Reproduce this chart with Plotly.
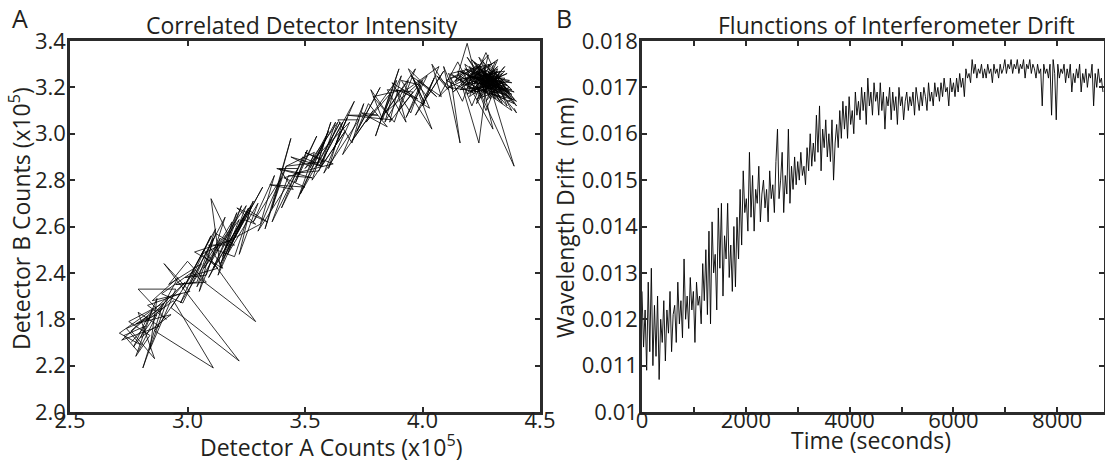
import plotly.graph_objects as go

# ---------------- Panel A data: Detector A counts vs Detector B counts (x10^5) -------------
det_a = [
    2.76, 2.82, 2.73, 2.79, 2.87, 2.74, 2.80, 2.71, 2.85, 2.78,
    2.84, 2.75, 2.90, 2.77, 2.83, 2.72, 2.88, 2.79, 2.86, 2.76,
    2.92, 2.81, 2.89, 2.78, 2.93, 2.80, 2.87, 2.84, 2.95, 2.79,
    2.91, 2.83, 2.97, 2.86, 3.11, 2.94, 2.82, 2.99, 2.88, 2.96,
    2.85, 3.01, 2.90, 3.22, 2.93, 3.03, 2.89, 2.98, 3.06, 2.92,
    3.00, 3.08, 2.95, 3.04, 3.12, 2.98, 3.07, 3.29, 3.02, 3.10,
    2.97, 3.14, 3.05, 3.11, 3.01, 3.16, 3.08, 2.99, 3.13, 3.06,
    3.18, 3.03, 3.15, 3.09, 3.20, 3.12, 3.04, 3.17, 3.10, 3.14,
    3.22, 3.07, 3.19, 3.13, 3.24, 3.11, 3.21, 3.16, 3.26, 3.09,
    3.18, 3.23, 3.15, 3.28, 3.20, 3.12, 3.25, 3.17, 3.30, 3.22,
    3.27, 3.19, 3.32, 3.14, 3.24, 3.29, 3.21, 3.34, 3.26, 3.18,
    3.31, 3.37, 3.28, 3.40, 3.33, 3.44, 3.36, 3.42, 3.30, 3.47,
    3.39, 3.45, 3.35, 3.50, 3.41, 3.48, 3.38, 3.53, 3.43, 3.36,
    3.51, 3.46, 3.55, 3.40, 3.49, 3.57, 3.44, 3.52, 3.60, 3.47,
    3.54, 3.42, 3.58, 3.50, 3.62, 3.46, 3.56, 3.63, 3.52, 3.59,
    3.48, 3.65, 3.55, 3.61, 3.53, 3.67, 3.57, 3.64, 3.50, 3.69,
    3.60, 3.66, 3.56, 3.71, 3.62, 3.68, 3.58, 3.73, 3.64, 3.70,
    3.75, 3.66, 3.79, 3.70, 3.82, 3.72, 3.77, 3.85, 3.74, 3.81,
    3.68, 3.87, 3.78, 3.83, 3.90, 3.80, 3.86, 3.76, 3.89, 3.84,
    3.92, 3.79, 3.88, 3.94, 3.82, 3.91, 3.86, 3.96, 3.85, 3.93,
    3.89, 3.98, 3.87, 3.95, 4.00, 3.90, 3.97, 3.84, 4.02, 3.93,
    3.99, 3.91, 4.04, 3.96, 4.01, 3.94, 4.06, 3.98, 4.03, 3.92,
    4.07, 4.00, 4.05, 3.97, 4.09, 4.02, 3.95, 4.08, 4.04, 4.11,
    4.06, 4.13, 4.09, 4.16, 4.12, 4.18, 4.07, 4.15, 4.20, 4.11,
    4.17, 4.22, 4.14, 4.19, 4.24, 4.16, 4.21, 4.26, 4.18, 4.23,
    4.10, 4.25, 4.20, 4.28, 4.15, 4.24, 4.27, 4.19, 4.30, 4.22,
    4.13, 4.26, 4.29, 4.21, 4.32, 4.17, 4.28, 4.23, 4.31, 4.25,
    4.34, 4.20, 4.27, 4.33, 4.18, 4.30, 4.24, 4.35, 4.22, 4.29,
    4.12, 4.26, 4.32, 4.19, 4.36, 4.28, 4.21, 4.33, 4.25, 4.31,
    4.16, 4.27, 4.34, 4.23, 4.37, 4.29, 4.20, 4.32, 4.26, 4.35,
    4.14, 4.24, 4.30, 4.38, 4.22, 4.33, 4.27, 4.19, 4.31, 4.36,
    4.25, 4.18, 4.29, 4.34, 4.23, 4.39, 4.28, 4.21, 4.32, 4.26,
    4.37, 4.24, 4.30, 4.17, 4.35, 4.27, 4.33, 4.22, 4.38, 4.29,
    4.11, 4.25, 4.31, 4.20, 4.36, 4.28, 4.23, 4.34, 4.26, 4.39,
    4.19, 4.32, 4.27, 4.35, 4.24, 4.30, 4.21, 4.37, 4.29, 4.33,
    4.16, 4.26, 4.38, 4.23, 4.31, 4.28, 4.34, 4.20, 4.36, 4.25,
    4.30, 4.22, 4.33, 4.27, 4.39, 4.24, 4.32, 4.18, 4.35, 4.29,
    4.26, 4.37, 4.21, 4.31, 4.28, 4.34, 4.23, 4.38, 4.30, 4.25,
    4.33, 4.19, 4.36, 4.27, 4.32, 4.40, 4.29, 4.35, 4.24, 4.38,
    4.31, 4.37, 4.26, 4.34, 4.40, 4.33, 4.39, 4.36, 4.40, 4.39,
]
det_b = [
    2.10, 2.17, 2.13, 2.06, 2.22, 2.16, 2.09, 2.14, 2.24, 2.04,
    2.13, 2.19, 2.27, 2.08, 2.21, 2.11, 2.17, 2.23, 2.03, 2.15,
    2.30, 1.99, 2.25, 2.18, 2.22, 2.12, 2.29, 2.07, 2.33, 2.33,
    2.20, 2.26, 2.31, 2.15, 1.99, 2.28, 2.19, 2.36, 2.23, 2.38,
    2.28, 2.32, 2.44, 2.02, 2.25, 2.41, 2.31, 2.27, 2.44, 2.35,
    2.45, 2.36, 2.35, 2.36, 2.59, 2.33, 2.50, 2.19, 2.40, 2.56,
    2.27, 2.55, 2.32, 2.55, 2.35, 2.64, 2.39, 2.38, 2.42, 2.48,
    2.54, 2.49, 2.42, 2.52, 2.52, 2.57, 2.34, 2.57, 2.72, 2.42,
    2.63, 2.42, 2.62, 2.39, 2.64, 2.42, 2.66, 2.50, 2.68, 2.38,
    2.57, 2.69, 2.47, 2.71, 2.47, 2.50, 2.69, 2.48, 2.70, 2.48,
    2.69, 2.53, 2.77, 2.44, 2.63, 2.61, 2.68, 2.62, 2.67, 2.54,
    2.61, 2.82, 2.62, 2.81, 2.59, 2.98, 2.68, 2.86, 2.58, 2.85,
    2.85, 2.76, 2.78, 2.77, 2.81, 2.83, 2.85, 2.81, 2.82, 2.62,
    2.93, 2.79, 2.99, 2.68, 2.90, 2.86, 2.90, 2.86, 3.01, 2.72,
    2.92, 2.86, 2.88, 2.92, 2.87, 2.83, 2.84, 3.05, 2.85, 2.98,
    2.74, 3.05, 2.86, 3.05, 2.80, 3.01, 2.86, 3.05, 2.85, 3.05,
    2.85, 3.05, 2.86, 3.14, 2.93, 3.07, 2.83, 3.06, 3.06, 2.96,
    3.13, 2.91, 3.10, 2.97, 3.20, 3.01, 3.13, 3.03, 3.09, 3.08,
    3.08, 3.06, 3.19, 3.06, 3.28, 2.99, 3.17, 3.05, 3.23, 3.05,
    3.19, 3.16, 3.05, 3.23, 3.06, 3.25, 3.05, 3.18, 3.19, 3.05,
    3.19, 3.15, 3.22, 3.09, 3.23, 3.10, 3.28, 3.09, 3.25, 3.07,
    3.21, 3.23, 3.02, 3.24, 3.13, 3.28, 3.16, 3.23, 3.11, 3.18,
    3.29, 3.12, 3.24, 3.08, 3.27, 3.16, 3.25, 3.16, 3.30, 3.19,
    3.25, 3.19, 3.29, 2.96, 3.24, 3.27, 3.16, 3.31, 3.21, 3.26,
    3.14, 3.28, 3.22, 3.39, 3.19, 3.25, 3.12, 3.24, 3.30, 3.17,
    3.23, 3.29, 3.16, 3.22, 3.27, 2.96, 3.20, 3.33, 3.18, 3.25,
    3.18, 3.31, 3.15, 3.27, 3.23, 3.21, 3.34, 3.13, 3.26, 3.20,
    3.19, 3.29, 3.10, 3.25, 3.24, 3.02, 3.28, 3.21, 3.18, 3.30,
    3.26, 3.16, 3.28, 3.20, 3.17, 3.24, 3.32, 3.14, 3.27, 3.21,
    3.19, 3.29, 3.23, 3.15, 3.20, 3.26, 3.23, 3.32, 3.18, 3.27,
    3.23, 3.30, 3.17, 3.15, 3.26, 3.22, 3.35, 3.17, 3.24, 3.12,
    3.25, 3.28, 3.19, 3.26, 3.21, 2.86, 3.23, 3.19, 3.29, 3.22,
    3.18, 3.33, 3.20, 3.24, 3.24, 3.14, 3.27, 3.22, 3.19, 3.28,
    3.20, 3.18, 3.31, 3.25, 3.21, 3.17, 3.29, 3.20, 3.26, 3.13,
    3.22, 3.24, 3.19, 3.29, 3.16, 3.27, 3.23, 3.16, 3.22, 3.18,
    3.27, 3.23, 3.22, 3.27, 3.15, 3.30, 3.23, 3.18, 3.26, 3.21,
    3.25, 3.31, 3.16, 3.24, 3.18, 3.22, 3.27, 3.21, 3.15, 3.25,
    3.19, 3.23, 3.26, 3.20, 3.27, 3.13, 3.24, 3.17, 3.22, 3.28,
    3.21, 3.25, 3.19, 3.26, 3.18, 3.14, 3.24, 3.22, 3.20, 3.10,
    3.23, 3.17, 3.25, 3.19, 3.12, 3.23, 3.15, 3.14, 3.09, 3.11,
]

# ---------------- Panel B data: wavelength drift (nm) vs time (s) -------------------------
time_step_s = 30
drift_nm = [
    0.0126, 0.0114, 0.0122, 0.0109, 0.0128, 0.0113, 0.0131, 0.0110, 0.0123, 0.0112,
    0.0125, 0.0107, 0.0120, 0.0115, 0.0124, 0.0111, 0.0122, 0.0117, 0.0126, 0.0113,
    0.0121, 0.0123, 0.0115, 0.0128, 0.0119, 0.0124, 0.0116, 0.0133, 0.0120, 0.0125,
    0.0118, 0.0129, 0.0122, 0.0126, 0.0115, 0.0128, 0.0123, 0.0125, 0.0119, 0.0132,
    0.0124, 0.0135, 0.0121, 0.0139, 0.0119, 0.0141, 0.0130, 0.0134, 0.0122, 0.0144,
    0.0131, 0.0145, 0.0125, 0.0138, 0.0133, 0.0145, 0.0129, 0.0136, 0.0126, 0.0140,
    0.0127, 0.0142, 0.0133, 0.0148, 0.0136, 0.0152, 0.0143, 0.0146, 0.0139, 0.0156,
    0.0142, 0.0151, 0.0139, 0.0148, 0.0145, 0.0153, 0.0141, 0.0147, 0.0150, 0.0144,
    0.0148, 0.0141, 0.0152, 0.0146, 0.0149, 0.0143, 0.0154, 0.0161, 0.0146, 0.0150,
    0.0156, 0.0143, 0.0151, 0.0147, 0.0161, 0.0145, 0.0153, 0.0148, 0.0155, 0.0149,
    0.0154, 0.0150, 0.0156, 0.0151, 0.0153, 0.0149, 0.0157, 0.0152, 0.0160, 0.0153,
    0.0158, 0.0154, 0.0164, 0.0156, 0.0166, 0.0152, 0.0161, 0.0157, 0.0163, 0.0155,
    0.0160, 0.0154, 0.0163, 0.0150, 0.0158, 0.0162, 0.0157, 0.0165, 0.0159, 0.0167,
    0.0161, 0.0166, 0.0159, 0.0168, 0.0162, 0.0165, 0.0160, 0.0169, 0.0164, 0.0167,
    0.0163, 0.0170, 0.0165, 0.0169, 0.0162, 0.0172, 0.0166, 0.0169, 0.0164, 0.0171,
    0.0167, 0.0169, 0.0164, 0.0171, 0.0165, 0.0169, 0.0161, 0.0168, 0.0166, 0.0170,
    0.0163, 0.0169, 0.0165, 0.0168, 0.0162, 0.0170, 0.0166, 0.0168, 0.0163, 0.0167,
    0.0169, 0.0165, 0.0168, 0.0166, 0.0169, 0.0164, 0.0170, 0.0167, 0.0165, 0.0169,
    0.0166, 0.0170, 0.0168, 0.0165, 0.0171, 0.0167, 0.0169, 0.0166, 0.0171, 0.0168,
    0.0170, 0.0167, 0.0171, 0.0168, 0.0172, 0.0169, 0.0170, 0.0166, 0.0172, 0.0169,
    0.0171, 0.0168, 0.0172, 0.0169, 0.0173, 0.0170, 0.0172, 0.0168, 0.0174, 0.0172,
    0.0173, 0.0171, 0.0176, 0.0173, 0.0175, 0.0172, 0.0174, 0.0173, 0.0175, 0.0172,
    0.0174, 0.0172, 0.0175, 0.0173, 0.0174, 0.0171, 0.0175, 0.0173, 0.0174, 0.0172,
    0.0175, 0.0173, 0.0174, 0.0176, 0.0173, 0.0175, 0.0174, 0.0176, 0.0173, 0.0175,
    0.0174, 0.0176, 0.0173, 0.0175, 0.0174, 0.0176, 0.0172, 0.0175, 0.0174, 0.0176,
    0.0173, 0.0175, 0.0174, 0.0172, 0.0175, 0.0173, 0.0174, 0.0166, 0.0175, 0.0173,
    0.0174, 0.0172, 0.0175, 0.0164, 0.0176, 0.0173, 0.0163, 0.0175, 0.0172, 0.0174,
    0.0173, 0.0175, 0.0171, 0.0174, 0.0172, 0.0175, 0.0169, 0.0173, 0.0171, 0.0174,
    0.0172, 0.0175, 0.0169, 0.0173, 0.0171, 0.0174, 0.0170, 0.0173, 0.0172, 0.0175,
    0.0166, 0.0173, 0.0170, 0.0174, 0.0171, 0.0172, 0.0169,
]
time_s = [i * time_step_s for i in range(len(drift_nm))]

# ---------------- Tick labels ---------------------------------------------------------------
a_xticks = [2.5, 3.0, 3.5, 4.0, 4.5]
a_xtext = ["2.5", "3.0", "3.5", "4.0", "4.5"]
a_yticks = [1.8, 2.0, 2.2, 2.4, 2.6, 2.8, 3.0, 3.2, 3.4]
a_ytext = ["2.0", "2.2", "1.8", "2.4", "2.6", "2.8", "3.0", "3.2", "3.4"]
b_xticks = [0, 1000, 2000, 3000, 4000, 5000, 6000, 7000, 8000]
b_xtext = ["0", "", "2000", "", "4000", "", "6000", "", "8000"]
b_yticks = [0.010, 0.011, 0.012, 0.013, 0.014, 0.015, 0.016, 0.017, 0.018]
b_ytext = ["0.01", "0.011", "0.012", "0.013", "0.014", "0.015", "0.016", "0.017", "0.018"]

W, H = 1105, 462
FONT = "Open Sans"
TXT = "#231f20"
AX = "#2b2b2b"

def px(x):
    return x / W

def py(y):
    return 1 - y / H

fig = go.Figure()
fig.add_trace(go.Scatter(x=det_a, y=det_b, mode="lines",
                         line=dict(color="black", width=0.8),
                         xaxis="x", yaxis="y", showlegend=False, hoverinfo="skip"))
fig.add_trace(go.Scatter(x=time_s, y=drift_nm, mode="lines",
                         line=dict(color="black", width=0.9),
                         xaxis="x2", yaxis="y2", showlegend=False, hoverinfo="skip"))

common = dict(showline=True, linecolor=AX, linewidth=2.5, mirror="ticks",
              ticks="inside", ticklen=5, tickwidth=2, tickcolor=AX,
              showgrid=False, zeroline=False, automargin=False,
              tickfont=dict(family=FONT, size=22, color=TXT))
xextra = dict(ticklabelstandoff=-13)
yextra = dict(ticklabelstandoff=-3)

fig.update_layout(
    width=W, height=H,
    margin=dict(l=0, r=0, t=0, b=0, autoexpand=False),
    paper_bgcolor="white", plot_bgcolor="white",
    xaxis=dict(domain=[px(70), px(540)], range=[2.5, 4.5], anchor="y",
               tickmode="array", tickvals=a_xticks, ticktext=a_xtext, **common, **xextra),
    yaxis=dict(domain=[py(412), py(41)], range=[1.8, 3.4], anchor="x",
               tickmode="array", tickvals=a_yticks, ticktext=a_ytext, **common, **yextra),
    xaxis2=dict(domain=[px(642), px(1104)], range=[0, 8900], anchor="y2",
                tickmode="array", tickvals=b_xticks, ticktext=b_xtext, **common, **xextra),
    yaxis2=dict(domain=[py(412), py(41)], range=[0.010, 0.018], anchor="x2",
                tickmode="array", tickvals=b_yticks, ticktext=b_ytext, **common, **yextra),
)

def ann(text, x, y, size=23, angle=0):
    fig.add_annotation(text=text, x=px(x), y=py(y), xref="paper", yref="paper",
                       xanchor="center", yanchor="middle", showarrow=False,
                       textangle=angle, font=dict(family=FONT, size=size, color=TXT))

ann("A", 20, 18, size=25)
ann("B", 564, 18, size=25)
ann("Correlated Detector Intensity", 302, 25)
ann("Flunctions of Interferometer Drift", 896, 25)
ann("Detector A Counts (x10<sup>5</sup>)", 331, 446)
ann("Detector B Counts (x10<sup>5</sup>)", 20, 219, angle=-90)
ann("Wavelength Drift\u00a0 (nm)", 565, 218, angle=-90)
ann("Time (seconds)", 871, 440)

fig.write_html("out.html")
